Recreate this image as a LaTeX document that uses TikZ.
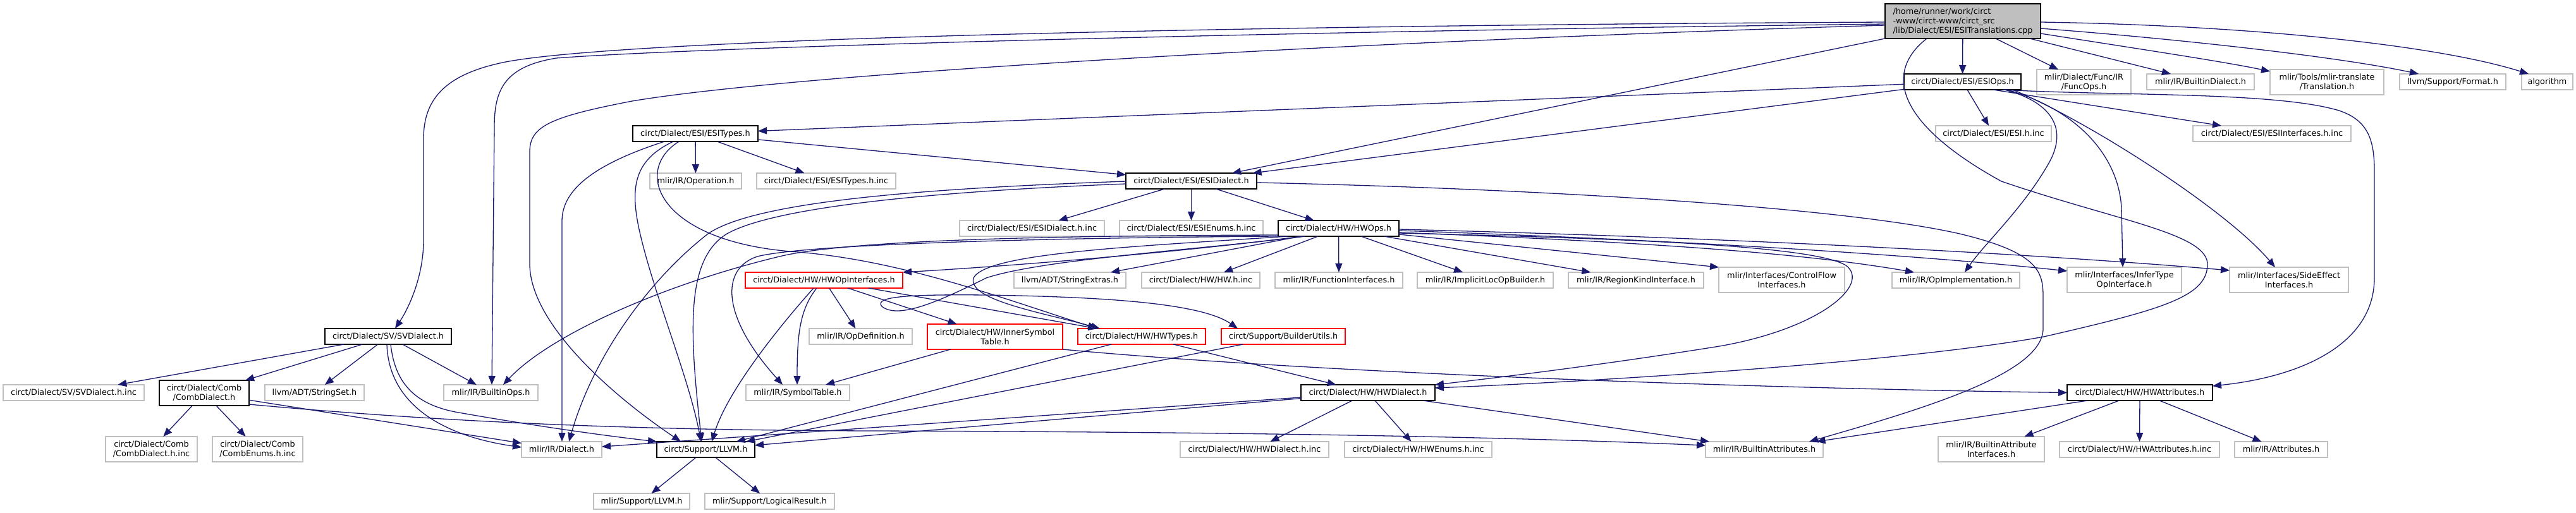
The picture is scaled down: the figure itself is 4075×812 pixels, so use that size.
\documentclass[tikz,border=0pt]{standalone}
\usepackage{fontspec}
\setmainfont{DejaVu Sans}
\usetikzlibrary{arrows.meta}
\definecolor{edgec}{HTML}{191970}
\definecolor{gbord}{HTML}{C0C0C0}
\definecolor{mfill}{HTML}{BFBFBF}
\newcommand{\mkbox}[7]{\node[#6, minimum width={(#4-#2)*0.5pt}, minimum height={(#5-#3)*0.5pt}] (#1) at ({(#2+#4)/2},{(#3+#5)/2}) {#7};}
\tikzset{
  base/.style={inner sep=0pt, outer sep=0pt, line width=0.9pt, fill=white, align=center, font=\fontsize{6.4pt}{7.5pt}\selectfont},
  gry/.style={base, draw=gbord},
  blk/.style={base, draw=black},
  redn/.style={base, draw=red},
  mainn/.style={base, draw=black, fill=mfill, align=left},
  conn/.style={draw=edgec, line width=0.65pt, -{Triangle[length=7pt,width=5.5pt]}}
}
\begin{document}
\begin{tikzpicture}[x=0.5pt,y=-0.5pt]
\fill[white] (0,0) rectangle (4075,812);
\useasboundingbox (0,0) rectangle (4075,812);
% nodes
\mkbox{main}{2982}{6}{3228}{61}{mainn}{/home/runner/work/circt\\-www/circt-www/circt\_src\\/lib/Dialect/ESI/ESITranslations.cpp}
\mkbox{esiops}{3012}{117}{3197}{142}{blk}{circt/Dialect/ESI/ESIOps.h}
\mkbox{funcops}{3222}{110}{3371}{150}{gry}{mlir/Dialect/Func/IR\\/FuncOps.h}
\mkbox{bdial}{3396}{117}{3566}{142}{gry}{mlir/IR/BuiltinDialect.h}
\mkbox{transl}{3591}{110}{3771}{150}{gry}{mlir/Tools/mlir-translate\\/Translation.h}
\mkbox{format}{3796}{117}{3964}{142}{gry}{llvm/Support/Format.h}
\mkbox{algo}{3989}{117}{4070}{142}{gry}{algorithm}
\mkbox{esitypes}{1001}{199}{1199}{224}{blk}{circt/Dialect/ESI/ESITypes.h}
\mkbox{esihinc}{3062}{199}{3245}{224}{gry}{circt/Dialect/ESI/ESI.h.inc}
\mkbox{esiif}{3469}{199}{3719}{224}{gry}{circt/Dialect/ESI/ESIInterfaces.h.inc}
\mkbox{oper}{1028}{274}{1173}{299}{gry}{mlir/IR/Operation.h}
\mkbox{esitinc}{1197}{274}{1417}{299}{gry}{circt/Dialect/ESI/ESITypes.h.inc}
\mkbox{esid}{1781}{274}{1988}{299}{blk}{circt/Dialect/ESI/ESIDialect.h}
\mkbox{esidinc}{1518}{349}{1747}{374}{gry}{circt/Dialect/ESI/ESIDialect.h.inc}
\mkbox{esienum}{1771}{349}{1998}{374}{gry}{circt/Dialect/ESI/ESIEnums.h.inc}
\mkbox{hwops}{2022}{349}{2213}{374}{blk}{circt/Dialect/HW/HWOps.h}
\mkbox{hwopif}{1179}{431}{1428}{456}{redn}{circt/Dialect/HW/HWOpInterfaces.h}
\mkbox{strext}{1604}{431}{1781}{456}{gry}{llvm/ADT/StringExtras.h}
\mkbox{hwhinc}{1806}{431}{1993}{456}{gry}{circt/Dialect/HW/HW.h.inc}
\mkbox{funcif}{2017}{431}{2219}{456}{gry}{mlir/IR/FunctionInterfaces.h}
\mkbox{iloc}{2242}{431}{2457}{456}{gry}{mlir/IR/ImplicitLocOpBuilder.h}
\mkbox{region}{2481}{431}{2695}{456}{gry}{mlir/IR/RegionKindInterface.h}
\mkbox{cflow}{2719}{423}{2918}{463}{gry}{mlir/Interfaces/ControlFlow\\Interfaces.h}
\mkbox{opimpl}{2993}{431}{3195}{456}{gry}{mlir/IR/OpImplementation.h}
\mkbox{infer}{3270}{423}{3451}{463}{gry}{mlir/Interfaces/InferType\\OpInterface.h}
\mkbox{side}{3527}{423}{3715}{463}{gry}{mlir/Interfaces/SideEffect\\Interfaces.h}
\mkbox{svd}{514}{520}{714}{545}{blk}{circt/Dialect/SV/SVDialect.h}
\mkbox{opdef}{1280}{520}{1443}{545}{gry}{mlir/IR/OpDefinition.h}
\mkbox{innersym}{1467}{513}{1681}{553}{redn}{circt/Dialect/HW/InnerSymbol\\Table.h}
\mkbox{hwtypes}{1705}{520}{1907}{545}{redn}{circt/Dialect/HW/HWTypes.h}
\mkbox{buildu}{1932}{520}{2128}{545}{redn}{circt/Support/BuilderUtils.h}
\mkbox{svdinc}{5}{609}{228}{634}{gry}{circt/Dialect/SV/SVDialect.h.inc}
\mkbox{combd}{252}{602}{394}{642}{blk}{circt/Dialect/Comb\\/CombDialect.h}
\mkbox{strset}{419}{609}{576}{634}{gry}{llvm/ADT/StringSet.h}
\mkbox{bops}{702}{609}{851}{634}{gry}{mlir/IR/BuiltinOps.h}
\mkbox{symt}{1180}{609}{1344}{634}{gry}{mlir/IR/SymbolTable.h}
\mkbox{hwd}{2058}{609}{2270}{634}{blk}{circt/Dialect/HW/HWDialect.h}
\mkbox{hwattr}{3270}{609}{3500}{634}{blk}{circt/Dialect/HW/HWAttributes.h}
\mkbox{combdinc}{167}{691}{312}{731}{gry}{circt/Dialect/Comb\\/CombDialect.h.inc}
\mkbox{combenum}{336}{691}{479}{731}{gry}{circt/Dialect/Comb\\/CombEnums.h.inc}
\mkbox{dialect}{825}{699}{952}{724}{gry}{mlir/IR/Dialect.h}
\mkbox{llvm}{1039}{699}{1194}{724}{blk}{circt/Support/LLVM.h}
\mkbox{hwdinc}{1867}{699}{2102}{724}{gry}{circt/Dialect/HW/HWDialect.h.inc}
\mkbox{hwenum}{2127}{699}{2360}{724}{gry}{circt/Dialect/HW/HWEnums.h.inc}
\mkbox{battr}{2698}{699}{2884}{724}{gry}{mlir/IR/BuiltinAttributes.h}
\mkbox{baif}{3066}{691}{3234}{731}{gry}{mlir/IR/BuiltinAttribute\\Interfaces.h}
\mkbox{hwattrinc}{3258}{699}{3511}{724}{gry}{circt/Dialect/HW/HWAttributes.h.inc}
\mkbox{attrs}{3535}{699}{3682}{724}{gry}{mlir/IR/Attributes.h}
\mkbox{mllvm}{939}{781}{1091}{806}{gry}{mlir/Support/LLVM.h}
\mkbox{logres}{1115}{781}{1320}{806}{gry}{mlir/Support/LogicalResult.h}
% main edges
\draw[conn] (main) -- (esiops);
\draw[conn] (main.south -| 3157,0) -- (funcops.north -| 3256,0);
\draw[conn] (main.south -| 3211,0) -- (bdial.north -| 3434,0);
\draw[conn] (main.east |- 0,53) .. controls (3400,80) and (3520,98) .. (transl.west |- 0,113);
\draw[conn] (main.east |- 0,45) .. controls (3450,62) and (3700,90) .. (format.north -| 3826,0);
\draw[conn] (main.east |- 0,35) .. controls (3550,40) and (3850,70) .. (algo.north -| 4000,0);
\draw[conn] (main.west |- 0,35) .. controls (2000,40) and (1000,60) .. (800,98) .. controls (700,118) and (670,160) .. (670,220) -- (670,380) .. controls (670,440) and (645,490) .. (svd.north -| 625,0);
\draw[conn] (main.west |- 0,38) .. controls (2000,50) and (1100,75) .. (880,92) .. controls (800,105) and (782,140) .. (782,200) -- (bops.north -| 778,0);
\draw[conn] (main.west |- 0,40) .. controls (2300,60) and (1300,110) .. (1000,160) .. controls (870,185) and (838,200) .. (838,240) -- (838,420) .. controls (840,510) and (960,620) .. (llvm.north -| 1077,0);
\draw[conn] (main.south west) -- (esid.north -| 1949,0);
\draw[conn] (main.south -| 3048,0) .. controls (2985,110) and (2990,190) .. (3166,287) .. controls (3350,350) and (3495,370) .. (3492,420) .. controls (3490,470) and (3420,490) .. (3233,533) .. controls (3000,575) and (2500,605) .. (hwd.east |- 0,614);
% ESIOps edges
\draw[conn] (esiops) -- (esitypes);
\draw[conn] (esiops) -- (esid);
\draw[conn] (esiops) -- (esihinc);
\draw[conn] (esiops.south -| 3153,0) -- (esiif.north -| 3514,0);
\draw[conn] (esiops.south -| 3167,0) .. controls (3350,152) and (3600,145) .. (3700,175) .. controls (3745,190) and (3756,220) .. (3756,270) -- (3756,440) .. controls (3756,540) and (3650,595) .. (hwattr.east |- 0,611);
\draw[conn] (esiops.south -| 3171,0) .. controls (3240,160) and (3275,200) .. (3240,260) .. controls (3200,330) and (3140,385) .. (opimpl.north -| 3108,0);
\draw[conn] (esiops.south -| 3175,0) .. controls (3290,175) and (3352,250) .. (3356,330) -- (infer.north -| 3358,0);
\draw[conn] (esiops.south -| 3184,0) .. controls (3300,190) and (3520,330) .. (side.north -| 3599,0);
% ESITypes edges
\draw[conn] (esitypes) -- (oper);
\draw[conn] (esitypes) -- (esitinc);
\draw[conn] (esitypes) -- (esid);
\draw[conn] (esitypes.south -| 1051,0) .. controls (940,260) and (889,300) .. (889,350) -- (dialect.north -| 889,0);
\draw[conn] (esitypes.south -| 1065,0) .. controls (1000,255) and (995,300) .. (1015,380) .. controls (1040,480) and (1090,600) .. (llvm.north -| 1109,0);
\draw[conn] (esitypes.south -| 1074,0) .. controls (1000,270) and (1040,380) .. (1250,398) .. controls (1420,410) and (1580,470) .. (hwtypes.north -| 1735,0);
% ESIDialect edges
\draw[conn] (esid) -- (esidinc);
\draw[conn] (esid) -- (esienum);
\draw[conn] (esid) -- (hwops);
\draw[conn] (esid.west |- 0,287) .. controls (1500,297) and (1200,315) .. (1120,370) .. controls (1030,440) and (940,560) .. (dialect.north -| 900,0);
\draw[conn] (esid.west |- 0,291) .. controls (1500,302) and (1230,325) .. (1150,370) .. controls (1085,410) and (1090,520) .. (llvm.north -| 1110,0);
\draw[conn] (esid.east |- 0,289) .. controls (2400,298) and (2900,325) .. (3100,370) .. controls (3225,400) and (3232,430) .. (3232,470) -- (3232,520) .. controls (3232,590) and (3050,645) .. (battr.north -| 2862,0);
% HWOps edges
\draw[conn] (hwops.south -| 2060,0) .. controls (1900,395) and (1650,418) .. (hwopif.north east);
\draw[conn] (hwops.south -| 2058,0) -- (strext.north -| 1757,0);
\draw[conn] (hwops.south -| 2085,0) -- (hwhinc.north -| 1936,0);
\draw[conn] (hwops) -- (funcif);
\draw[conn] (hwops) -- (iloc);
\draw[conn] (hwops) -- (region);
\draw[conn] (hwops.east |- 0,371) -- (cflow.north west);
\draw[conn] (hwops.east |- 0,368) .. controls (2600,383) and (2850,400) .. (opimpl.north -| 3028,0);
\draw[conn] (hwops.east |- 0,365) .. controls (2600,378) and (3000,400) .. (infer.west |- 0,429);
\draw[conn] (hwops.east |- 0,363) .. controls (2700,375) and (3200,400) .. (side.west |- 0,428);
\draw[conn] (hwops.east |- 0,369) .. controls (2600,378) and (2870,390) .. (2920,420) .. controls (2960,450) and (2880,520) .. (2720,548) .. controls (2520,580) and (2350,600) .. (hwd.north east);
\draw[conn] (hwops.south -| 2038,0) .. controls (1800,390) and (1560,400) .. (1540,440) .. controls (1530,475) and (1650,495) .. (hwtypes.north -| 1740,0);
\draw[conn] (hwops.south -| 2065,0) .. controls (1900,395) and (1650,410) .. (1560,440) .. controls (1480,480) and (1420,505) .. (1395,485) .. controls (1380,468) and (1450,466) .. (1560,467) .. controls (1750,470) and (1900,480) .. (buildu.north -| 1958,0);
\draw[conn] (hwops.west |- 0,372) .. controls (1700,373) and (1350,378) .. (1233,406) .. controls (1050,450) and (870,530) .. (bops.north -| 796,0);
\draw[conn] (hwops.west |- 0,374) .. controls (1700,376) and (1280,385) .. (1198,406) .. controls (1140,425) and (1140,500) .. (symt.north -| 1238,0);
% HWOpInterfaces edges
\draw[conn] (hwopif) -- (opdef);
\draw[conn] (hwopif.south -| 1292,0) .. controls (1265,490) and (1261,530) .. (symt.north -| 1261,0);
\draw[conn] (hwopif.south -| 1287,0) .. controls (1230,520) and (1150,620) .. (llvm.north -| 1126,0);
\draw[conn] (hwopif) -- (innersym);
\draw[conn] (hwopif) -- (hwtypes);
% InnerSymbolTable edges
\draw[conn] (innersym) -- (symt);
\draw[conn] (innersym.south east) .. controls (2100,592) and (2800,615) .. (hwattr.west);
% HWTypes, BuilderUtils
\draw[conn] (hwtypes) -- (llvm);
\draw[conn] (hwtypes) -- (hwd);
\draw[conn] (buildu) -- (llvm);
% HWDialect
\draw[conn] (hwd) -- (dialect);
\draw[conn] (hwd) -- (llvm);
\draw[conn] (hwd) -- (hwdinc);
\draw[conn] (hwd) -- (hwenum);
\draw[conn] (hwd) -- (battr);
% HWAttributes
\draw[conn] (hwattr) -- (battr);
\draw[conn] (hwattr) -- (baif);
\draw[conn] (hwattr) -- (hwattrinc);
\draw[conn] (hwattr) -- (attrs);
% LLVM
\draw[conn] (llvm) -- (mllvm);
\draw[conn] (llvm) -- (logres);
% SVDialect
\draw[conn] (svd) -- (svdinc);
\draw[conn] (svd) -- (combd);
\draw[conn] (svd) -- (strset);
\draw[conn] (svd) -- (bops);
\draw[conn] (svd.south -| 618,0) .. controls (625,610) and (660,640) .. (720,652) .. controls (850,675) and (960,690) .. (llvm.north west);
\draw[conn] (svd.south -| 612,0) .. controls (615,640) and (700,690) .. (dialect.west |- 0,708);
% CombDialect
\draw[conn] (combd) -- (combdinc);
\draw[conn] (combd) -- (combenum);
\draw[conn] (combd) -- (dialect);
\draw[conn] (combd.east |- 0,640) .. controls (700,668) and (1000,681) .. (1380,682) .. controls (2000,684) and (2400,692) .. (battr.west |- 0,705);
\end{tikzpicture}
\end{document}
